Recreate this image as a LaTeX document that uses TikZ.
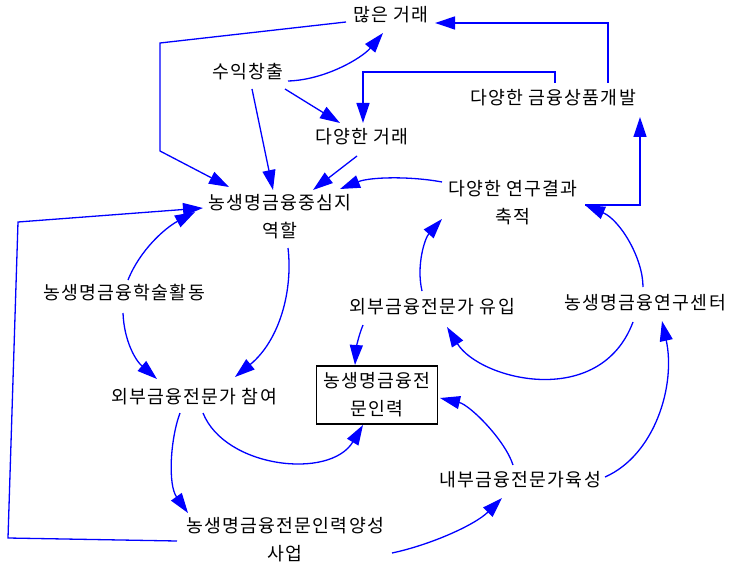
\documentclass[tikz,border=0pt]{standalone}
\usepackage{fontspec}
\setmainfont{Noto Sans CJK KR}
\newfontfamily\lblfont[LetterSpace=7]{Noto Sans CJK KR}
\usetikzlibrary{arrows.meta,calc}
\definecolor{linkblue}{RGB}{0,0,255}
\tikzset{
  lbl/.style={inner sep=0pt, align=center, font=\lblfont\fontsize{18.3}{28}\selectfont},
  stockbox/.style={lbl, draw=black, line width=1.3pt, minimum width=121pt, minimum height=58pt},
  link/.style={draw=linkblue, line width=1.3pt, -{Triangle[length=20pt,width=13pt]}}
}
\begin{document}
\begin{tikzpicture}[x=1pt,y=-1pt]
\useasboundingbox (0,0) rectangle (730,564);

% variables
\node[lbl] (mg) at (391,15) {많은 거래};
\node[lbl] (sc) at (248,72) {수익창출};
\node[lbl] (gp) at (553,98) {다양한 금융상품개발};
\node[lbl] (dt) at (362,137) {다양한 거래};
\node[lbl] (hub) at (280,217) {농생명금융중심지\\역할};
\node[lbl] (rr) at (513,203) {다양한 연구결과\\축적};
\node[lbl] (ac) at (124,293) {농생명금융학술활동};
\node[lbl] (ei) at (432,307) {외부금융전문가 유입};
\node[lbl] (rc) at (645,303) {농생명금융연구센터};
\node[stockbox] (hr) at (377,395) {농생명금융전\\문인력};
\node[lbl] (ep) at (194,397) {외부금융전문가 참여};
\node[lbl] (tr) at (285,540) {농생명금융전문인력양성\\사업};
\node[lbl] (it) at (520,480) {내부금융전문가육성};

% links
\draw[link] ($(mg)+(-45,7)$) -- (160,43) -- (160,151) -- ($(hub)+(-51,-30)$);
\draw[link] ($(sc)+(40,9)$) .. controls (325,80) and (362,58) .. ($(mg)+(-8,18)$);
\draw[link] ($(sc)+(37,17)$) -- ($(dt)+(-22,-14)$);
\draw[link] ($(sc)+(4,17)$) -- ($(hub)+(-7,-27)$);
\draw[link] ($(dt)+(-5,19)$) -- ($(hub)+(33,-27)$);
\draw[link] ($(rr)+(-71,-21)$) .. controls (410,176) and (370,177) .. ($(hub)+(60,-28)$);
\draw[link] ($(gp)+(2,-15)$) -- (555,72) -- (363,72) -- ($(dt)+(1,-14)$);
\draw[link] ($(gp)+(55,-15)$) -- (608,23) -- ($(mg)+(44,8)$);
\draw[link] ($(rr)+(72,2)$) -- (640,205) -- ($(gp)+(87,19)$);
\draw[link] ($(hub)+(8,31)$) .. controls (293,290) and (280,340) .. ($(ep)+(41,-20)$);
\draw[link] ($(ac)+(4,-13)$) .. controls (140,250) and (165,228) .. ($(hub)+(-85,-5)$);
\draw[link] ($(ac)+(-1,20)$) .. controls (124,340) and (135,360) .. ($(ep)+(-37,-18)$);
\draw[link] ($(tr)+(-108,1)$) -- (8,538) -- (18,222) -- ($(hub)+(-77,-9)$);
\draw[link] ($(ep)+(-14,16)$) .. controls (170,440) and (168,485) .. ($(tr)+(-97,-27)$);
\draw[link] ($(ep)+(9,16)$) .. controls (225,468) and (330,480) .. ($(hr)+(-14,30)$);
\draw[link] ($(tr)+(107,13)$) .. controls (430,545) and (475,525) .. ($(it)+(-18,18)$);
\draw[link] ($(it)+(-7,-15)$) .. controls (505,440) and (470,405) .. ($(hr)+(63,3)$);
\draw[link] ($(it)+(85,-3)$) .. controls (655,455) and (676,385) .. ($(rc)+(17,18)$);
\draw[link] ($(ei)+(-69,18)$) .. controls (358,337) and (356,350) .. ($(hr)+(-22,-30)$);
\draw[link] ($(rc)+(-12,19)$) .. controls (600,410) and (480,380) .. ($(ei)+(15,20)$);
\draw[link] ($(ei)+(-10,-16)$) .. controls (416,265) and (425,238) .. ($(rr)+(-71,16)$);
\draw[link] ($(rc)+(-2,-16)$) .. controls (643,258) and (620,220) .. ($(rr)+(72,2)$);
\end{tikzpicture}
\end{document}
